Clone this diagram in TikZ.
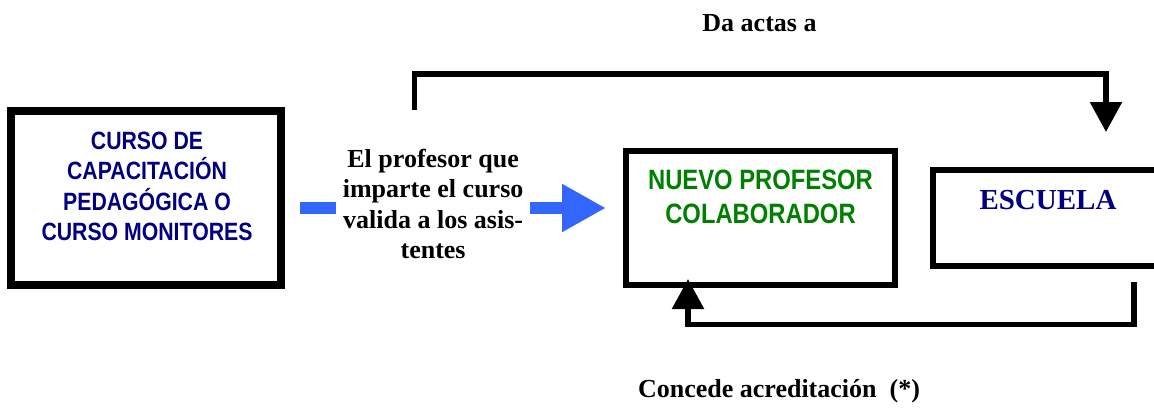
\documentclass[tikz,border=0pt]{standalone}
\usepackage{fontspec}
\setmainfont{Liberation Serif}
\newfontfamily\narrowsans{Liberation Sans}[FakeStretch=0.85]
\usetikzlibrary{arrows.meta,calc}
\definecolor{navyblue}{RGB}{0,0,128}
\definecolor{boxgreen}{RGB}{0,128,0}
\definecolor{flowblue}{RGB}{51,102,255}
\begin{document}
\begin{tikzpicture}[x=1pt,y=-1pt,
  box/.style={draw=black, rectangle, inner sep=0pt},
  boxtext/.style={align=center, inner sep=0pt},
  serifbold/.style={font=\bfseries\fontsize{26}{30.3}\selectfont, align=center, inner sep=0pt},
  conn/.style={draw=black, line width=5.5pt, -{Triangle[length=30pt,width=31pt]}},
  flow/.style={draw=flowblue, line width=12pt, -{Triangle[length=44pt,width=45pt]}}
]
\useasboundingbox (0,0) rectangle (1154,410);
\clip (0,0) rectangle (1154,410);

% boxes
\node[box, line width=8pt, minimum width=270pt, minimum height=174pt] (capbox) at (146,198) {};
\node[boxtext, text=navyblue, font=\narrowsans\bfseries\fontsize{25}{30.3}\selectfont] (captext) at (147,186.5)
  {CURSO DE\\CAPACITACIÓN\\PEDAGÓGICA O\\CURSO MONITORES};

\node[box, line width=6pt, minimum width=269pt, minimum height=134pt] (npc) at (760.5,218) {};
\node[boxtext, text=boxgreen, font=\narrowsans\bfseries\fontsize{28}{34}\selectfont] (npctext) at (760.5,197)
  {NUEVO PROFESOR\\COLABORADOR};

\node[box, line width=6pt, minimum width=230pt, minimum height=96pt] (esc) at (1048,218) {};
\node[boxtext, text=navyblue, font=\bfseries\fontsize{29}{34}\selectfont] (esctext) at (1048,200) {ESCUELA};

% blue flow arrow with label
\draw[flow] ($(capbox.east)+(15,10)$) -- node[pos=0.435, yshift=4pt, fill=white, minimum width=194pt, serifbold] (flowlabel)
  {El profesor que\\imparte el curso\\valida a los asis-\\tentes} ($(npc.west)+(-17,-10)$);

% top connector: Da actas a
\coordinate (ta) at (414.5,110);
\coordinate (tcorner) at (414.5,74);
\coordinate (tb) at (1106,132);
\draw[conn] (ta) -- (tcorner) -| (tb);
\node[serifbold] (datext) at (759.5,23.5) {Da actas a};

% bottom connector: Concede acreditación
\coordinate (ba) at (1134,282);
\coordinate (bcorner) at (1134,324.5);
\coordinate (bb) at (688,279);
\draw[conn] (ba) -- (bcorner) -| (bb);
\node[serifbold] (cotext) at (779,391) {Concede acreditación \ (*)};
\end{tikzpicture}
\end{document}
